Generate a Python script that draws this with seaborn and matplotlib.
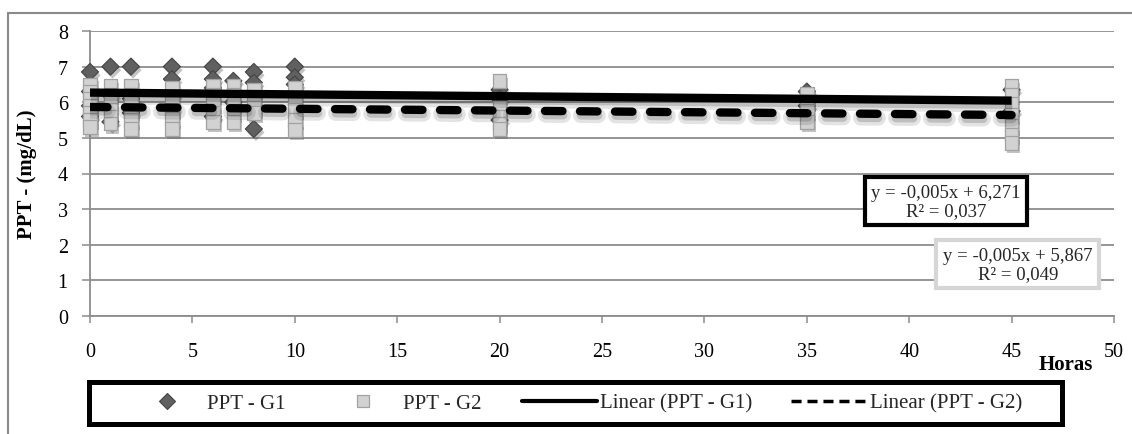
import numpy as np
import pandas as pd
import matplotlib
matplotlib.use("Agg")
import matplotlib.pyplot as plt
import matplotlib.patheffects as pe
from matplotlib.lines import Line2D
from matplotlib.patches import Rectangle
import seaborn as sns

# Sampling times (hours)
hours = [0, 1, 2, 4, 6, 7, 8, 10, 20, 35, 45]

# Total plasma protein (mg/dL) per sampling time, group 1
ppt_g1 = [
    [6.85, 6.3, 5.9, 5.6],
    [7.0, 6.2, 5.45],
    [7.0, 6.1, 5.7],
    [7.0, 6.65, 6.2],
    [7.0, 6.65, 6.4, 5.6],
    [6.6, 6.0],
    [6.85, 6.55, 5.25],
    [7.0, 6.7, 6.5],
    [6.35, 6.1, 5.5],
    [6.3, 5.9],
    [6.35, 5.75],
]

# Total plasma protein (mg/dL) per sampling time, group 2
ppt_g2 = [
    [6.5, 6.3, 6.1, 5.9, 5.7, 5.5, 5.3],
    [6.45, 6.2, 6.0, 5.8, 5.6, 5.4],
    [6.45, 6.2, 6.0, 5.75, 5.5, 5.25],
    [6.4, 6.1, 5.8, 5.55, 5.25],
    [6.45, 6.2, 5.95, 5.7, 5.45],
    [6.45, 6.2, 5.95, 5.7, 5.45],
    [6.35, 6.1, 5.85, 5.7],
    [6.4, 6.1, 5.8, 5.5, 5.22],
    [6.6, 5.85, 5.6, 5.4, 5.25],
    [6.25, 6.0, 5.75, 5.45],
    [6.45, 6.2, 5.95, 5.65, 5.35, 5.1, 4.85],
]

# Linear trend coefficients (y = slope*x + intercept) and R²
trend_names = ["Linear (PPT - G1)", "Linear (PPT - G2)"]
trend_slope = [-0.005, -0.005]
trend_intercept = [6.271, 5.867]
trend_r2 = [0.037, 0.049]

y_ticks = [0, 1, 2, 3, 4, 5, 6, 7, 8]
x_ticks = [0, 5, 10, 15, 20, 25, 30, 35, 40, 45, 50]


def long_table(values, group):
    rows = [(h, v, group) for h, vals in zip(hours, values) for v in vals]
    return pd.DataFrame(rows, columns=["Horas", "PPT", "Grupo"])


def dec(v, nd=3):
    return f"{v:.{nd}f}".replace(".", ",")


df_g1 = long_table(ppt_g1, "PPT - G1")
df_g2 = long_table(ppt_g2, "PPT - G2")

sns.set_theme(style="white")
plt.rcParams["font.family"] = ["Liberation Serif", "DejaVu Sans"]

W, H = 1132, 435
fig = plt.figure(figsize=(W / 100, H / 100), dpi=100)
ax = fig.add_axes([90 / W, 1 - 317 / H, (1114 - 90) / W, (317 - 32) / H])

grid_col = "#8c8c8c"
marker_shadow = [pe.SimplePatchShadow(offset=(1.5, -2.5), shadow_rgbFace="#555555", alpha=0.35), pe.Normal()]

sns.scatterplot(data=df_g1, x="Horas", y="PPT", marker="D", s=76,
                color="#606060", edgecolor="#444444", linewidth=0.8, clip_on=False,
                ax=ax, zorder=3, legend=False, path_effects=marker_shadow)
sns.scatterplot(data=df_g2, x="Horas", y="PPT", marker="s", s=95,
                color="#d2d2d2", edgecolor="#a2a2a2", linewidth=0.9, clip_on=False,
                ax=ax, zorder=4, legend=False, path_effects=marker_shadow)

# Trend lines over the sampled time range
x_fit = np.array([min(hours), max(hours)], dtype=float)
line_styles = ["-", (0, (2.1, 2.1))]
for name, m, b, ls in zip(trend_names, trend_slope, trend_intercept, line_styles):
    tdf = pd.DataFrame({"Horas": x_fit, "PPT": m * x_fit + b})
    sns.lineplot(data=tdf, x="Horas", y="PPT", ax=ax, color="black", lw=6,
                 linestyle=ls, zorder=5,
                 path_effects=[pe.SimpleLineShadow(offset=(0.5, -3), alpha=0.12, linewidth=11),
                               pe.SimpleLineShadow(offset=(0.5, -3), alpha=0.18, linewidth=6),
                               pe.Normal()])
for ln in ax.get_lines():
    ln.set_dash_capstyle("round")
    ln.set_solid_capstyle("butt")

# Regression equation boxes
eq_pos = [(41.8, 3.22), (45.3, 1.45)]
eq_edge = ["black", "#d6d6d6"]
for m, b, r2, (ex, ey), ec in zip(trend_slope, trend_intercept, trend_r2, eq_pos, eq_edge):
    ax.text(ex, ey, f"y = {dec(m)}x + {dec(b)}\nR² = {dec(r2)}", ha="center", va="center",
            multialignment="center", fontsize=13.5, linespacing=1.05, zorder=6, clip_on=False,
            bbox=dict(boxstyle="square,pad=0.35", fc="white", ec=ec, lw=3))

ax.set_xlim(0, 50)
ax.set_ylim(0, 8)
ax.set_xticks(x_ticks)
ax.set_yticks(y_ticks)
ax.yaxis.grid(True, color=grid_col, lw=1.3)
ax.xaxis.grid(False)
ax.set_axisbelow(True)
for s in ["top", "right"]:
    ax.spines[s].set_visible(False)
for s in ["left", "bottom"]:
    ax.spines[s].set_color(grid_col)
    ax.spines[s].set_linewidth(1.3)
ax.tick_params(axis="y", left=True, length=6, width=1.1, color=grid_col, pad=10,
               labelsize=14.5, labelcolor="black")
ax.tick_params(axis="x", bottom=True, length=5, width=1.1, color=grid_col, pad=14,
               labelsize=14.5, labelcolor="black")

ax.set_xlabel("Horas", fontsize=15, fontweight="bold", color="black")
ax.xaxis.set_label_coords((1066 - 90) / 1024, (317 - 365) / 285)
ax.xaxis.label.set_va("center")
ax.set_ylabel("PPT - (mg/dL)", fontsize=15, fontweight="bold", color="black")
ax.yaxis.set_label_coords((27 - 90) / 1024, 0.5)
ax.yaxis.label.set_va("center")

# Legend with a heavy frame drawn separately
handles = [
    Line2D([], [], marker="D", ls="", ms=8.5, mfc="#606060", mec="#444444", mew=0.8),
    Line2D([], [], marker="s", ls="", ms=8, mfc="#d2d2d2", mec="#a2a2a2", mew=0.9),
    Line2D([], [], color="black", lw=3),
    Line2D([], [], color="black", lw=2.5, ls=(0, (2.9, 1.7))),
]
labels = ["PPT - G1", "PPT - G2"] + trend_names
fig.legend(handles, labels, loc="center", ncol=4, frameon=False, fontsize=15,
           bbox_to_anchor=((89 + 1062) / 2 / W, 1 - 404 / H),
           handlelength=3.6, handletextpad=0.15, columnspacing=1.9)
fig.add_artist(Rectangle((89 / W, 1 - 425 / H), (1062 - 89) / W, 42 / H,
                         transform=fig.transFigure, fill=False, ec="black", lw=3.6))

# Outer chart frame
fig.add_artist(Rectangle((8 / W, -0.1), 1.2, 1.1 - 14 / H, transform=fig.transFigure,
                         fill=False, ec="#8a8a8a", lw=1.5))

fig.savefig("out.png", dpi=100)
